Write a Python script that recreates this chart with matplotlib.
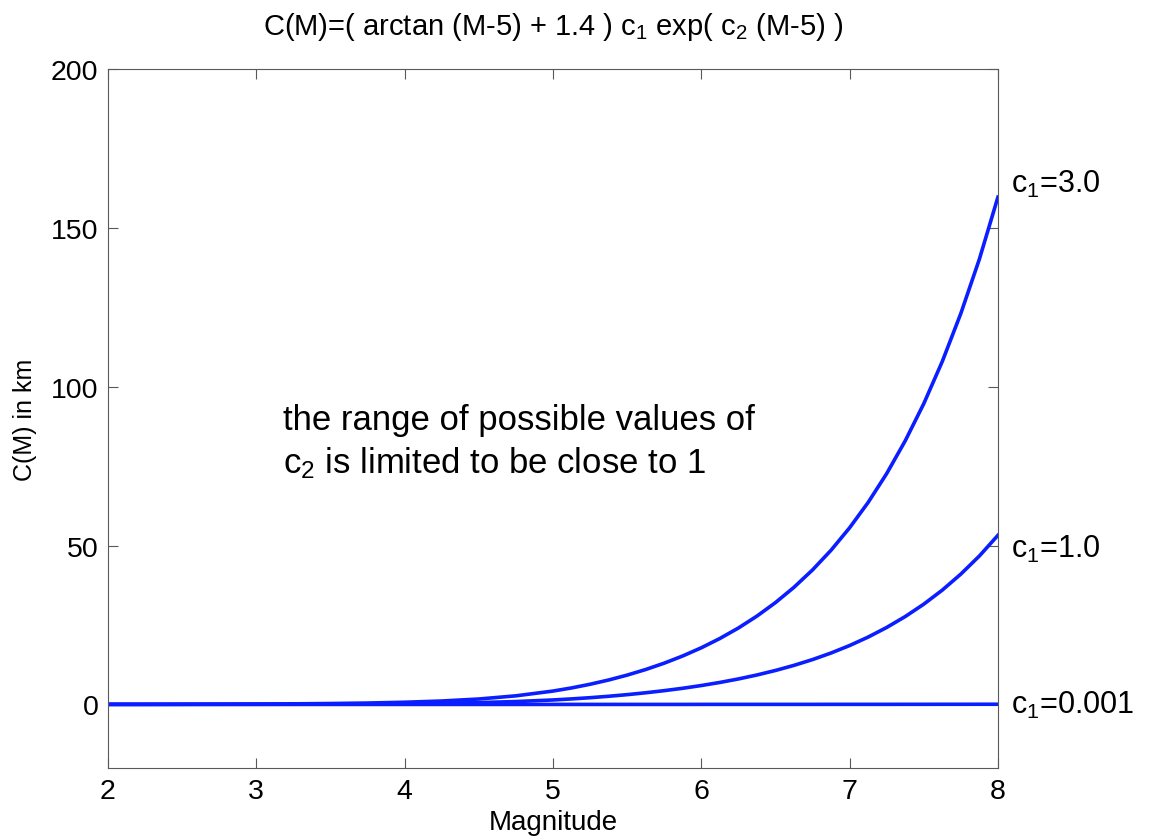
import matplotlib
matplotlib.use('Agg')
import matplotlib.pyplot as plt

plt.rcParams['font.family'] = ['Liberation Sans', 'DejaVu Sans']
plt.rcParams['mathtext.default'] = 'regular'

# magnitude samples and C(M) in km for c2 = 1
magnitude = [2.0, 2.25, 2.5, 2.75, 3.0, 3.25, 3.5, 3.75, 4.0, 4.25, 4.5, 4.75,
             5.0, 5.125, 5.25, 5.375, 5.5, 5.625, 5.75, 5.875,
             6.0, 6.125, 6.25, 6.375, 6.5, 6.625, 6.75, 6.875,
             7.0, 7.125, 7.25, 7.375, 7.5, 7.625, 7.75, 7.875, 8.0]
c_large = [0.02, 0.03, 0.05, 0.08, 0.12, 0.18, 0.28, 0.43, 0.68, 1.07, 1.70, 2.70,
           4.20, 5.18, 6.34, 7.68, 9.22, 10.98, 12.98, 15.25,
           17.82, 20.74, 24.04, 27.79, 32.04, 36.86, 42.33, 48.53,
           55.59, 63.57, 72.65, 82.96, 94.65, 107.95, 123.05, 140.15, 159.66]
c_mid = [0.01, 0.01, 0.02, 0.03, 0.04, 0.06, 0.09, 0.14, 0.23, 0.36, 0.57, 0.90,
         1.40, 1.73, 2.11, 2.56, 3.07, 3.66, 4.33, 5.08,
         5.94, 6.91, 8.01, 9.26, 10.68, 12.29, 14.11, 16.18,
         18.53, 21.19, 24.22, 27.65, 31.55, 35.98, 41.02, 46.72, 53.22]
c_small = [0.0, 0.0, 0.0, 0.0, 0.0, 0.0, 0.0, 0.0, 0.0, 0.0, 0.0, 0.0,
           0.0, 0.0, 0.0, 0.0, 0.0, 0.0, 0.0, 0.0,
           0.01, 0.01, 0.01, 0.01, 0.01, 0.01, 0.01, 0.02,
           0.02, 0.02, 0.02, 0.03, 0.03, 0.04, 0.04, 0.05, 0.05]
curve_labels = ['$c_1$=3.0', '$c_1$=1.0', '$c_1$=0.001']
label_y = [164, 49, 0]

fig = plt.figure(figsize=(11.55, 8.37), dpi=100)
ax = fig.add_axes([0.0935, 0.0813, 0.7705, 0.8351])

for vals, lab, ly in zip([c_large, c_mid, c_small], curve_labels, label_y):
    ax.plot(magnitude, vals, color='#0a1eff', linewidth=2.6)
    ax.text(8.09, ly, lab, fontsize=22, va='center', ha='left')

ax.set_xlim(2, 8)
ax.set_ylim(-20, 200)
ax.set_xticks(range(2, 9))
ax.set_yticks([0, 50, 100, 150, 200])
ax.tick_params(direction='in', length=7, labelsize=20.5, top=True, right=True,
               color='0.35', pad=7)
for s in ax.spines.values():
    s.set_color('0.35')

ax.set_xlabel('Magnitude', fontsize=20, labelpad=4)
ax.set_ylabel('C(M) in km', fontsize=18, labelpad=10)
ax.set_title('C(M)=( arctan (M-5) + 1.4 ) $c_1$ exp( $c_2$ (M-5) )', fontsize=21, pad=25)

ax.text(3.18, 95, 'the range of possible values of\n$c_2$ is limited to be close to 1',
        fontsize=25, va='top', ha='left', linespacing=1.3)

fig.savefig('out.png', dpi=100)
